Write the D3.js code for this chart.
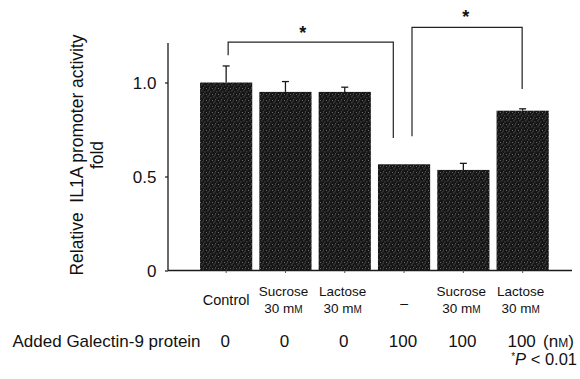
<!DOCTYPE html>
<html>
<head>
<meta charset="utf-8">
<script src="https://cdn.jsdelivr.net/npm/d3@7"></script>
<style>
  html, body { margin: 0; padding: 0; background: #fff; }
  svg text { font-family: "Liberation Sans", Arial, Helvetica, sans-serif; fill: #111; }
</style>
</head>
<body>
<svg id="chart" width="580" height="379"></svg>
<script>
// Relative IL1A promoter activity (fold) for each treatment
const categories = ["Control", "Sucrose", "Lactose", "None", "Sucrose+Gal9", "Lactose+Gal9"];
const labelTop = ["", "Sucrose", "Lactose", "", "Sucrose", "Lactose"];
const labelBottom = ["", "30 m", "30 m", "", "30 m", "30 m"];
const values = [1.0, 0.95, 0.95, 0.565, 0.535, 0.85];
const errors = [0.088, 0.055, 0.025, 0.0, 0.035, 0.01];
const galectinDose = ["0", "0", "0", "100", "100", "100"];
const yTicks = [0, 0.5, 1.0];
const yTickLabels = ["0", "0.5", "1.0"];

const svg = d3.select("#chart");

// speckled dark fill used for the bars
const defs = svg.append("defs");
const pat = defs.append("pattern")
  .attr("id", "speckle").attr("patternUnits", "userSpaceOnUse")
  .attr("width", 6).attr("height", 6);
pat.append("rect").attr("width", 6).attr("height", 6).attr("fill", "#161616");
[[0.5, 1.5], [3.5, 0.5], [2, 4], [5, 3.5], [4.5, 5.5]].forEach(([cx, cy]) => {
  pat.append("rect").attr("x", cx).attr("y", cy).attr("width", 0.8).attr("height", 0.8)
    .attr("fill", "#9a9a9a");
});

const x = d3.scaleBand().domain(categories)
  .range([196.5, 552.3]).paddingInner(0.12).paddingOuter(0.06);
const y = d3.scaleLinear().domain([0, 1.2]).range([270.5, 44.9]);
const axisColor = "#1a1a1a";

// bars
svg.append("g").selectAll("rect").data(categories).join("rect")
  .attr("x", d => x(d)).attr("width", x.bandwidth())
  .attr("y", (d, i) => y(values[i]))
  .attr("height", (d, i) => y(0) - y(values[i]))
  .attr("fill", "url(#speckle)");

// upper error bars
const eb = svg.append("g").attr("stroke", axisColor).attr("stroke-width", 1.3);
categories.forEach((c, i) => {
  if (errors[i] <= 0) return;
  const cx = x(c) + x.bandwidth() / 2;
  eb.append("line").attr("x1", cx).attr("x2", cx)
    .attr("y1", y(values[i])).attr("y2", y(values[i] + errors[i]));
  eb.append("line").attr("x1", cx - 3.5).attr("x2", cx + 3.5)
    .attr("y1", y(values[i] + errors[i])).attr("y2", y(values[i] + errors[i]));
});

// y axis
const yAxis = svg.append("g").attr("transform", "translate(168,0)")
  .call(d3.axisLeft(y).tickValues(yTicks).tickSize(3).tickFormat((d, i) => yTickLabels[i]));
yAxis.select(".domain").attr("d", `M0,${y(1.21)}V${y(0)}`).attr("stroke", axisColor).attr("stroke-width", 1.3);
yAxis.selectAll(".tick line").attr("stroke", axisColor).attr("stroke-width", 1.2);
yAxis.selectAll(".tick text").attr("x", -11.5).attr("dy", "0.36em")
  .attr("font-size", 17).attr("font-family", "Liberation Sans, Arial, sans-serif").attr("fill", "#111");

// x axis baseline with small ticks at bar centres
const xAxis = svg.append("g").attr("transform", `translate(0,${y(0)})`)
  .call(d3.axisBottom(x).tickSize(2.5).tickFormat(""));
xAxis.select(".domain").attr("d", "M168,0H572").attr("stroke", axisColor).attr("stroke-width", 1.3);
xAxis.selectAll(".tick line").attr("stroke", "#555").attr("stroke-width", 1);

// significance brackets
const br = svg.append("g").attr("fill", "none").attr("stroke", "#222").attr("stroke-width", 1.2);
const cxOf = c => x(c) + x.bandwidth() / 2;
function bracket(x1, x2, yTop, yL, yR) {
  br.append("path").attr("d", `M${x1},${yL}V${yTop}H${x2}V${yR}`);
}
bracket(cxOf(categories[0]) + 2, 393.3, y(1.215), y(1.145), y(0.705));
bracket(412, cxOf(categories[5]) - 0.5, y(1.293), y(0.714), y(0.965));
svg.append("text").attr("x", 302.7).attr("y", 39).attr("text-anchor", "middle")
  .attr("font-size", 18).attr("font-weight", "bold").text("*");
svg.append("text").attr("x", 465.7).attr("y", 23).attr("text-anchor", "middle")
  .attr("font-size", 18).attr("font-weight", "bold").text("*");

// y axis title
const yt = svg.append("g").attr("transform", "translate(83,155) rotate(-90)");
yt.append("text").attr("text-anchor", "middle").attr("font-size", 17.5)
  .attr("xml:space", "preserve").text("Relative  IL1A promoter activity");
yt.append("text").attr("y", 19.5).attr("text-anchor", "middle").attr("font-size", 17.5).text("fold");

// category labels
const cl = svg.append("g").attr("font-size", 12.5);
categories.forEach((c, i) => {
  const cx = cxOf(c);
  if (i === 0) {
    cl.append("text").attr("x", cx).attr("y", 305).attr("text-anchor", "middle")
      .attr("font-size", 14.5).text("Control");
  } else if (i === 3) {
    cl.append("text").attr("x", cx).attr("y", 308).attr("text-anchor", "middle")
      .attr("font-size", 14).text("–");
  } else {
    cl.append("text").attr("x", cx - 2).attr("y", 296).attr("text-anchor", "middle")
      .attr("font-size", 13.5).text(labelTop[i]);
    const t = cl.append("text").attr("x", cx - 2).attr("y", 313).attr("text-anchor", "middle")
      .attr("font-size", 13.5);
    t.append("tspan").text(labelBottom[i]);
    t.append("tspan").attr("font-size", 10).text("M");
  }
});

// galectin-9 dose row
const dr = svg.append("g").attr("font-size", 17);
dr.append("text").attr("x", 12.5).attr("y", 347).text("Added Galectin-9 protein");
categories.forEach((c, i) => {
  dr.append("text").attr("x", cxOf(c) - 1).attr("y", 347).attr("text-anchor", "middle")
    .text(galectinDose[i]);
});
const unit = dr.append("text").attr("x", 543).attr("y", 347);
unit.append("tspan").text("(n");
unit.append("tspan").attr("font-size", 12).text("M");
unit.append("tspan").text(")");

// significance note
const note = svg.append("text").attr("x", 577).attr("y", 365).attr("text-anchor", "end").attr("font-size", 16.5);
note.append("tspan").attr("font-size", 10).attr("dy", -5).text("*");
note.append("tspan").attr("font-style", "italic").attr("dy", 5).text("P");
note.append("tspan").text(" < 0.01");
</script>
</body>
</html>
